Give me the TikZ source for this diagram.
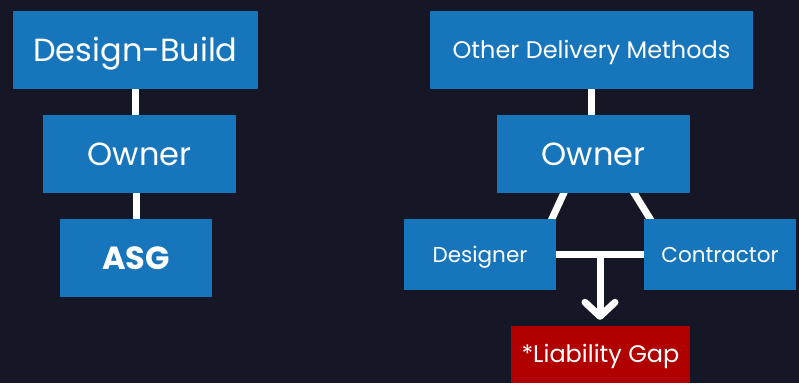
\documentclass[tikz,border=0pt]{standalone}
\usepackage{fontspec}
\setmainfont{Poppins}
\usetikzlibrary{backgrounds,calc,arrows.meta}
\definecolor{bgdark}{HTML}{151726}
\definecolor{boxblue}{HTML}{1776BB}
\definecolor{gapred}{HTML}{B00000}

\begin{document}
\begin{tikzpicture}[x=1pt,y=-1pt,
  box/.style={fill=boxblue,text=white,inner sep=0pt,minimum height=78pt,text depth=0pt},
  bigtext/.style={font=\fontsize{32pt}{35pt}\selectfont,text height=22.4pt},
  midtext/.style={font=\fontsize{24pt}{27pt}\selectfont,text height=16.8pt},
  smalltext/.style={font=\fontsize{21.5pt}{24pt}\selectfont,text height=15pt},
  link/.style={white,line width=7pt}]
  \useasboundingbox (0,0) rectangle (799,383);
  % left column
  \node[box,bigtext,minimum width=245pt] (db) at (135.5,50) {Design-Build};
  \node[box,bigtext,minimum width=193pt] (ownL) at (139.5,154) {Owner};
  \node[box,bigtext,minimum width=152pt] (asg) at (136,258) {\bfseries ASG};
  % right column
  \node[box,midtext,minimum width=323pt] (odm) at (591.5,50) {Other Delivery Methods};
  \node[box,bigtext,minimum width=193pt] (ownR) at (593.5,154) {Owner};
  \node[box,smalltext,minimum width=152pt,minimum height=71pt] (des) at (480,254.5) {Designer};
  \node[box,smalltext,minimum width=152pt,minimum height=71pt] (con) at (720,254.5) {Contractor};
  \node[box,midtext,fill=gapred,minimum width=179pt,minimum height=57pt] (gap) at (600.5,354.5) {*Liability Gap};
  \coordinate (split) at ($(des.east)!0.5!(con.west)$);

  \begin{scope}[on background layer]
    \fill[bgdark] (0,0) rectangle (799,383);
    \draw[link] (db.south) -- (db.south |- ownL.north);
    \draw[link] (asg.north) -- (asg.north |- ownL.south);
    \draw[link] (odm.south) -- (odm.south |- ownR.north);
    \draw[link] ($(ownR.south)+(-27,-6)$) -- ($(des.north east)+(-7,6)$);
    \draw[link] ($(ownR.south)+(37,-6)$) -- ($(con.north west)+(10,6)$);
    \draw[link] (des.east) -- (con.west);
  \end{scope}
  \draw[link,-{Straight Barb[length=14pt,width=30pt,round]},shorten >=6pt] (split) -- (split |- gap.north);
\end{tikzpicture}
\end{document}
